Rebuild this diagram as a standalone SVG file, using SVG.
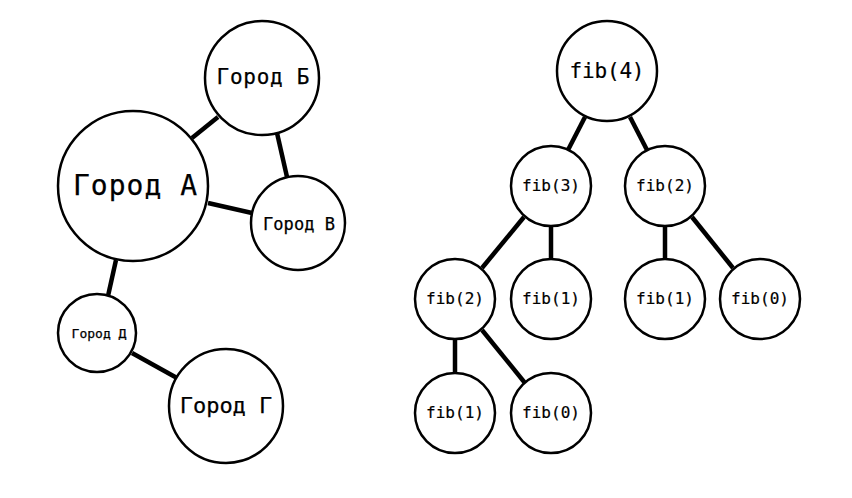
<svg xmlns="http://www.w3.org/2000/svg" width="852" height="498" viewBox="0 0 852 498">
<style>
.n{fill:#fff;stroke:#000;stroke-width:2.5}
.e{stroke:#000;stroke-width:4.5;stroke-linecap:butt;fill:none}
.c{font-family:"DejaVu Sans Mono",monospace;text-anchor:middle;fill:#000;stroke:#000;stroke-width:0.25}
.f{font-family:"DejaVu Sans Mono",monospace;text-anchor:middle;fill:#000;stroke:#000;stroke-width:0.2;font-size:16px}
</style>
<rect width="852" height="498" fill="#fff"/>
<g id="connectors">
<line class="e" x1="192" y1="138" x2="218" y2="117"/>
<line class="e" x1="208" y1="203" x2="252" y2="213"/>
<line class="e" x1="277" y1="133" x2="287" y2="177"/>
<line class="e" x1="116" y1="260" x2="108" y2="296"/>
<line class="e" x1="132" y1="353" x2="177" y2="378"/>
<line class="e" x1="585" y1="117" x2="568" y2="150"/>
<line class="e" x1="630" y1="117" x2="647" y2="150"/>
<line class="e" x1="524" y1="217" x2="482" y2="268"/>
<line class="e" x1="551" y1="226" x2="551" y2="259"/>
<line class="e" x1="665" y1="226" x2="665" y2="259"/>
<line class="e" x1="692" y1="217" x2="733" y2="268"/>
<line class="e" x1="455" y1="339" x2="455" y2="374"/>
<line class="e" x1="482" y1="330" x2="525" y2="383"/>
</g>
<g id="gorod-a"><circle class="n" cx="133" cy="186" r="75"/><text class="c" x="135" y="195" font-size="28" textLength="124">Город А</text></g>
<g id="gorod-b"><circle class="n" cx="262" cy="78" r="57"/><text class="c" x="263" y="84" font-size="21" textLength="93">Город Б</text></g>
<g id="gorod-v"><circle class="n" cx="298" cy="223" r="47"/><text class="c" x="299" y="230" font-size="17" textLength="72">Город В</text></g>
<g id="gorod-d"><circle class="n" cx="97" cy="333" r="39"/><text class="c" x="99" y="338" font-size="13">Город Д</text></g>
<g id="gorod-g"><circle class="n" cx="226" cy="406" r="57"/><text class="c" x="226" y="413" font-size="22">Город Г</text></g>
<g id="fib4"><circle class="n" cx="607" cy="71" r="50"/><text class="f" x="607" y="78" style="font-size:21px" textLength="75">fib(4)</text></g>
<g id="fib3"><circle class="n" cx="551" cy="186" r="40"/><text class="f" x="551" y="191">fib(3)</text></g>
<g id="fib2r"><circle class="n" cx="665" cy="186" r="40"/><text class="f" x="665" y="191">fib(2)</text></g>
<g id="fib2l"><circle class="n" cx="455" cy="299" r="40"/><text class="f" x="455" y="304">fib(2)</text></g>
<g id="fib1m"><circle class="n" cx="551" cy="299" r="40"/><text class="f" x="551" y="304">fib(1)</text></g>
<g id="fib1r"><circle class="n" cx="665" cy="299" r="40"/><text class="f" x="665" y="304">fib(1)</text></g>
<g id="fib0r"><circle class="n" cx="760" cy="299" r="40"/><text class="f" x="760" y="304">fib(0)</text></g>
<g id="fib1b"><circle class="n" cx="455" cy="413" r="40"/><text class="f" x="455" y="418">fib(1)</text></g>
<g id="fib0b"><circle class="n" cx="551" cy="413" r="40"/><text class="f" x="551" y="418">fib(0)</text></g>
</svg>
